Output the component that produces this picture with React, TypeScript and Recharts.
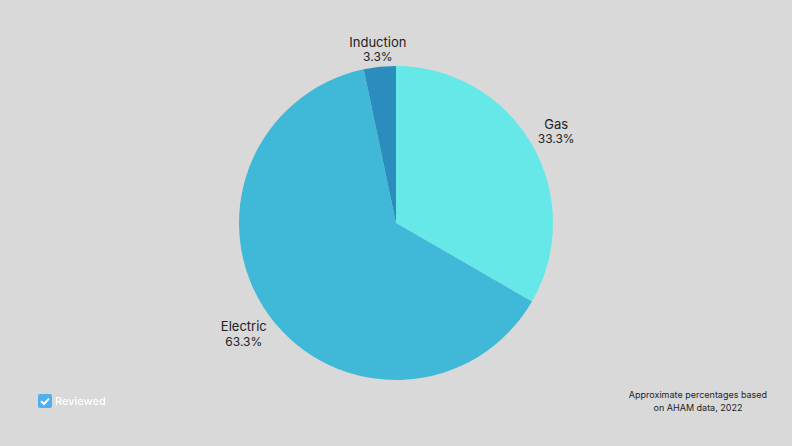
import { PieChart, Pie, Cell } from "recharts"

const categories = ["Gas", "Electric", "Induction"]
const shares = [33.3, 63.3, 3.3]
const sliceColors = ["#67E8E8", "#40B9D8", "#2A8DBD"]
const noteLines = ["Approximate percentages based", "on AHAM data, 2022"]

const data = categories.map((name, i) => ({ name, value: shares[i] }))

const FONT = "Inter, 'Open Sans', sans-serif"
const RAD = Math.PI / 180
const LABEL_GAPS = [28, 31, 18]

function SliceLabel({ cx, cy, midAngle, outerRadius, index, name, value }: any) {
  const r = outerRadius + LABEL_GAPS[index]
  const x = cx + r * Math.cos(-midAngle * RAD)
  const y = cy + r * Math.sin(-midAngle * RAD)
  return (
    <text x={x} y={y} textAnchor="middle" fill="#222" fontSize={13} fontFamily={FONT}>
      <tspan x={x} dy={-2}>{name}</tspan>
      <tspan x={x} dy={14.5} fontSize={12}>{value}%</tspan>
    </text>
  )
}

export default function App() {
  return (
    <div style={{ position: "absolute", left: 0, top: 0, width: 792, height: 446, background: "#D9D9D9", overflow: "hidden" }}>
      <PieChart width={792} height={446} margin={{ top: 0, right: 0, bottom: 0, left: 0 }}>
        <Pie
          data={data}
          dataKey="value"
          nameKey="name"
          cx={396}
          cy={223}
          outerRadius={157}
          startAngle={90}
          endAngle={-270}
          stroke="none"
          label={SliceLabel}
          labelLine={false}
          isAnimationActive={false}
        >
          {data.map((d, i) => (
            <Cell key={d.name} fill={sliceColors[i]} />
          ))}
        </Pie>
      </PieChart>

      <div style={{ position: "absolute", left: 38, top: 394, width: 14, height: 14, background: "#4DB0F0", borderRadius: 2 }}>
        <svg width={14} height={14} viewBox="0 0 14 14">
          <path d="M3 7.2 L6 10 L11 4.6" fill="none" stroke="#fff" strokeWidth={2} />
        </svg>
      </div>
      <div style={{ position: "absolute", left: 55, top: 394, fontFamily: FONT, fontSize: 11, fontWeight: 500, lineHeight: "15px", color: "#fff", filter: "blur(0.4px)" }}>
        Reviewed
      </div>

      <div style={{ position: "absolute", left: 618, top: 389, width: 160, textAlign: "center", fontFamily: FONT, fontSize: 9, lineHeight: "12.5px", color: "#222" }}>
        {noteLines.map((line) => (
          <div key={line}>{line}</div>
        ))}
      </div>
    </div>
  )
}
